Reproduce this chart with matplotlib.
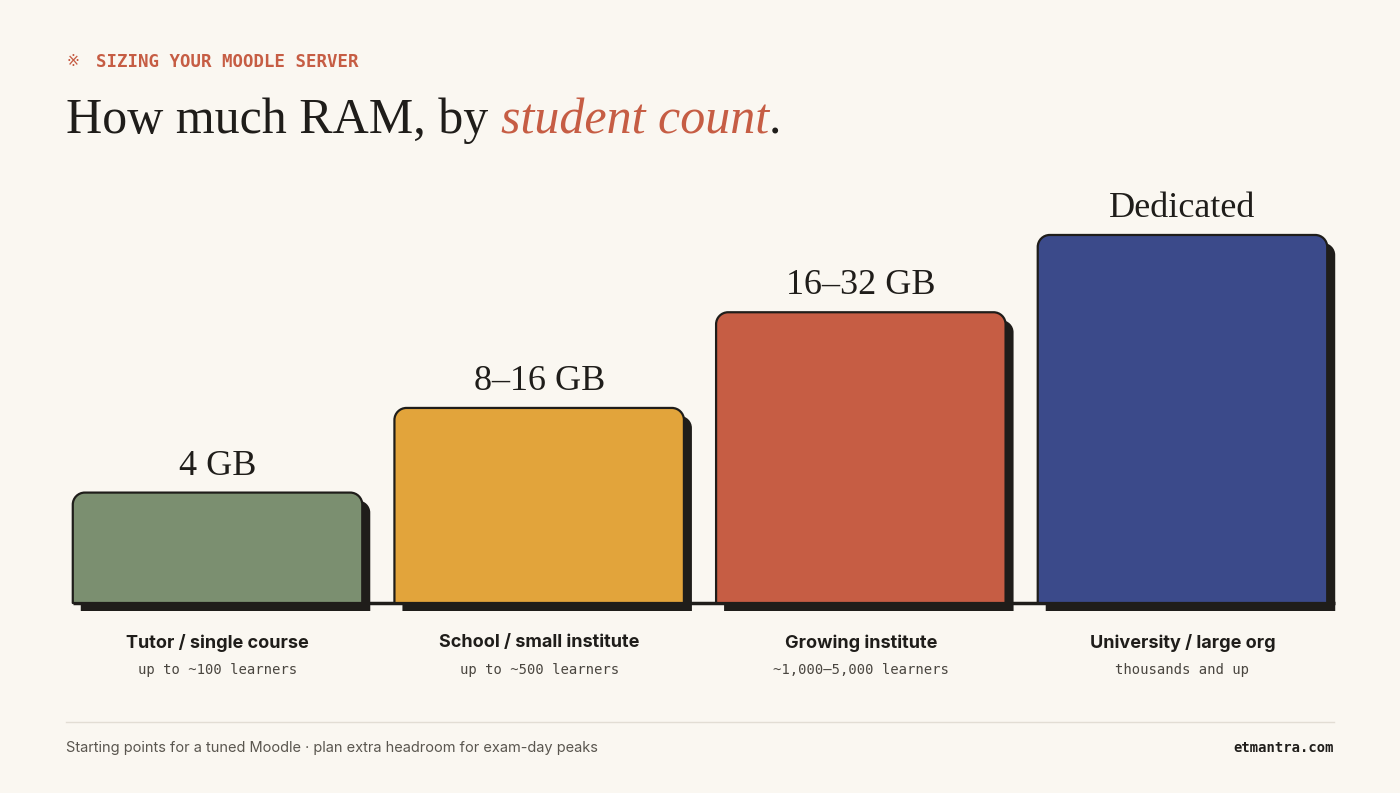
import matplotlib.pyplot as plt
from matplotlib.path import Path
from matplotlib.patches import PathPatch
from matplotlib.lines import Line2D
from matplotlib import transforms

# Tiers, learner ranges and the RAM recommendation for each
tiers = ["Tutor / single course", "School / small institute",
         "Growing institute", "University / large org"]
ranges = ["up to ~100 learners", "up to ~500 learners",
          "~1,000\u20135,000 learners", "thousands and up"]
ram_labels = ["4 GB", "8\u201316 GB", "16\u201332 GB", "Dedicated"]
rel_height = [30, 53, 79, 100]
colors = ["#7b8f70", "#e2a43b", "#c65d44", "#3b4a8a"]

BG = "#faf7f1"
INK = "#1f1d1a"
ACCENT = "#c65d44"

W, H = 1400, 793
fig = plt.figure(figsize=(W / 100, H / 100), dpi=100, facecolor=BG)
ax = fig.add_axes([0.0405, 0.2396, 0.919, 0.5105])
ax.set_xlim(-0.5, 3.5)
ax.set_ylim(0, 110)
ax.axis("off")

bw = 0.9
bb = ax.get_window_extent()
rx = 12 * 4.0 / bb.width
ry = 12 * 110 / bb.height
k = 0.5523


def top_rounded(x0, x1, h):
    verts = [(x0, 0), (x0, h - ry), (x0, h - ry + k * ry), (x0 + rx - k * rx, h), (x0 + rx, h),
             (x1 - rx, h), (x1 - rx + k * rx, h), (x1, h - ry + k * ry), (x1, h - ry),
             (x1, 0), (x0, 0)]
    codes = [Path.MOVETO, Path.LINETO, Path.CURVE4, Path.CURVE4, Path.CURVE4,
             Path.LINETO, Path.CURVE4, Path.CURVE4, Path.CURVE4,
             Path.LINETO, Path.CLOSEPOLY]
    return Path(verts, codes)


shadow_tr = transforms.offset_copy(ax.transData, fig=fig, x=8, y=-8, units="dots")

# baseline
ax.hlines(0, -bw / 2, len(tiers) - 1 + bw / 2 + 0.025, color=INK, lw=2.5,
          zorder=0.5, clip_on=False)

for i, (h, c) in enumerate(zip(rel_height, colors)):
    p = top_rounded(i - bw / 2, i + bw / 2, h)
    ax.add_patch(PathPatch(p, facecolor=INK, edgecolor="none", transform=shadow_tr,
                           zorder=1, clip_on=False))
    ax.add_patch(PathPatch(p, facecolor=c, edgecolor=INK, lw=1.6, zorder=2,
                           clip_on=False, joinstyle="round"))
    ax.annotate(ram_labels[i], (i, h), xytext=(0, 18), textcoords="offset pixels",
                ha="center", va="baseline", fontsize=26, family="Liberation Serif",
                color=INK)
    ax.annotate(tiers[i], (i, 0), xytext=(0, -40), textcoords="offset pixels",
                ha="center", va="center", fontsize=13, family="Inter",
                fontweight="bold", color=INK)
    ax.annotate(ranges[i], (i, 0), xytext=(0, -67), textcoords="offset pixels",
                ha="center", va="center", fontsize=10, family="DejaVu Sans Mono",
                color="#4a4640")

# header
fig.text(66 / W, 1 - 62 / H, "\u203b", ha="left", va="center", fontsize=11,
         family="DejaVu Sans", color=ACCENT)
fig.text(96 / W, 1 - 62 / H, "SIZING YOUR MOODLE SERVER", ha="left", va="center",
         fontsize=12.5, fontweight="bold", family="DejaVu Sans Mono", color=ACCENT)

r = fig.canvas.get_renderer()
x = 66 / W
ty = 1 - 133 / H
for txt, style, col in [("How much RAM, by ", "normal", INK),
                        ("student count", "italic", ACCENT),
                        (".", "normal", INK)]:
    t = fig.text(x, ty, txt, ha="left", va="baseline", fontsize=36,
                 family="Liberation Serif", style=style, color=col)
    x = t.get_window_extent(r).x1 / W

# footer
fig.add_artist(Line2D([66 / W, 1334 / W], [1 - 722 / H, 1 - 722 / H], color="#e2ddd4", lw=1))
fig.text(66 / W, 1 - 748 / H,
         "Starting points for a tuned Moodle \u00b7 plan extra headroom for exam-day peaks",
         ha="left", va="center", fontsize=10.5, family="Inter", color="#5a564f")
fig.text(1334 / W, 1 - 748 / H, "etmantra.com", ha="right", va="center", fontsize=10,
         family="DejaVu Sans Mono", fontweight="bold", color=INK)

fig.savefig("out.png", dpi=100, facecolor=BG)
